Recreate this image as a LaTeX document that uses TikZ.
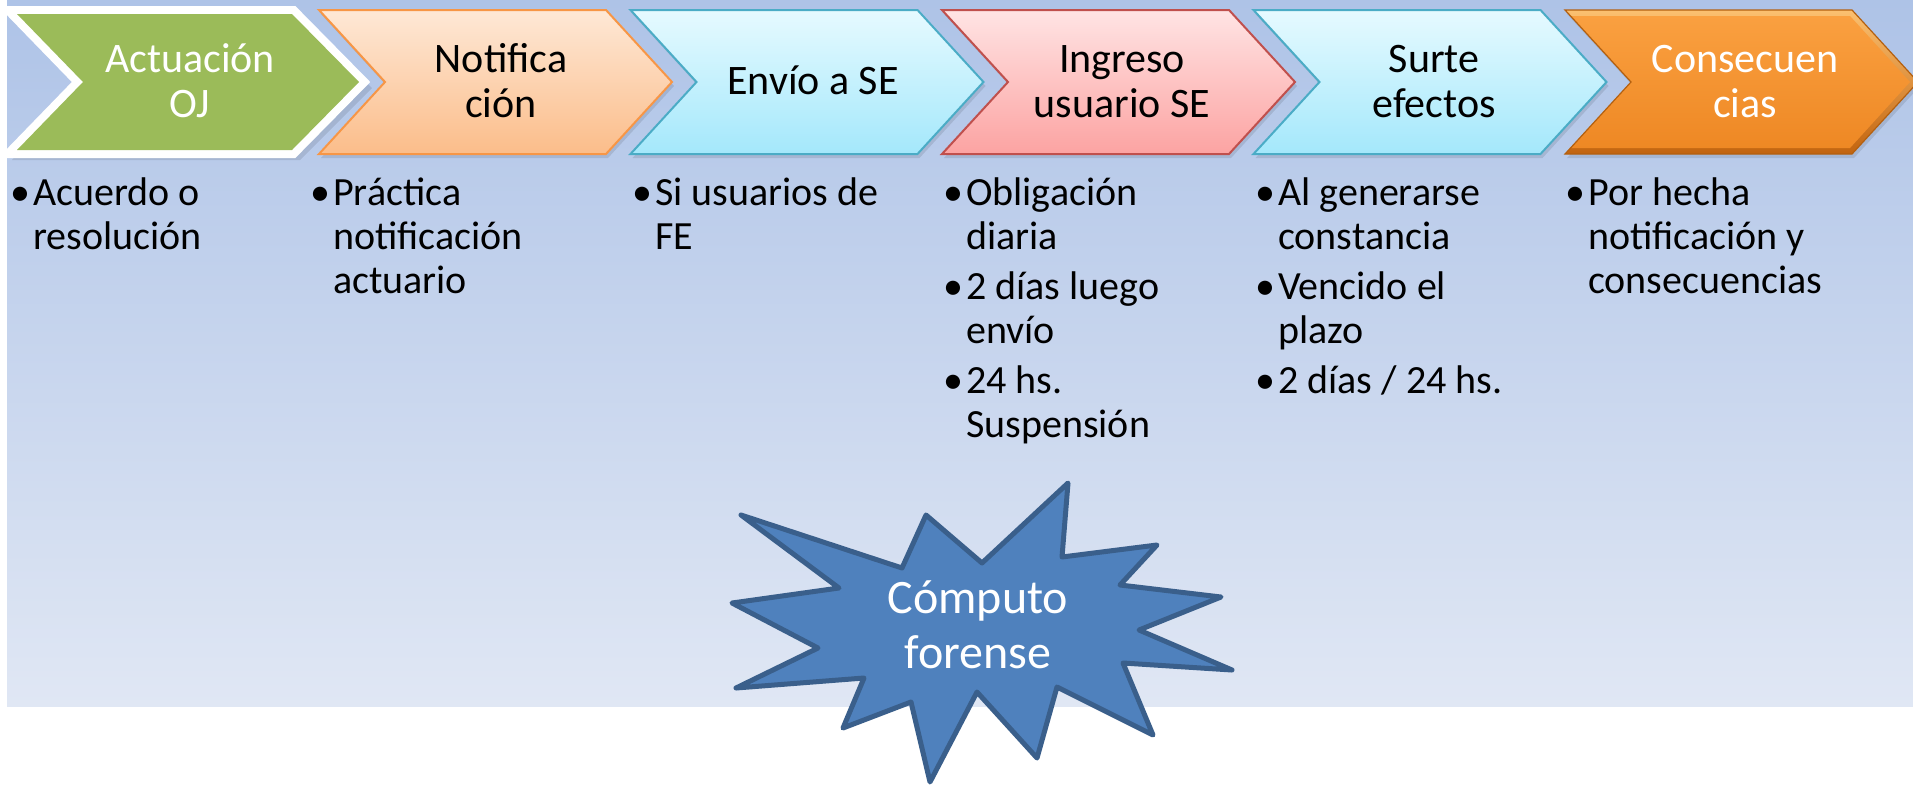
\documentclass[tikz,border=0pt]{standalone}
\usepackage{fontspec}
\setmainfont{Carlito}
\definecolor{bgtop}{HTML}{AEC3E7}
\definecolor{bgbot}{HTML}{E0E7F4}
\definecolor{ogreen}{HTML}{9BBB59}
\definecolor{peachT}{HTML}{FEE8D6}
\definecolor{peachB}{HTML}{FBBD8A}
\definecolor{peachD}{HTML}{F79646}
\definecolor{cyanT}{HTML}{E6FAFF}
\definecolor{cyanB}{HTML}{A4E8FB}
\definecolor{cyanD}{HTML}{4BACC6}
\definecolor{pinkT}{HTML}{FFE4E4}
\definecolor{pinkB}{HTML}{FCA3A2}
\definecolor{pinkD}{HTML}{C0504D}
\definecolor{orT}{HTML}{FAA040}
\definecolor{orB}{HTML}{EE8824}
\definecolor{orRimT}{HTML}{FBC070}
\definecolor{orRimB}{HTML}{C2640F}
\definecolor{orD}{HTML}{B4600F}
\definecolor{starF}{HTML}{4F81BD}
\definecolor{starD}{HTML}{3A5F8B}
\newcommand{\chev}[1]{(#1,10) -- ++(287,0) -- ++(66,72) -- ++(-66,72) -- ++(-287,0) -- ++(66,-72) -- cycle}
\newcommand{\chevin}[1]{(#1+6,16) -- ++(279,0) -- ++(60,66) -- ++(-60,66) -- ++(-279,0) -- ++(60,-66) -- cycle}
\newcommand{\ctext}[1]{\vtop{\hsize=320pt\parindent=0pt\centering\fontsize{42}{45}\selectfont #1\par}}
\newcommand{\bitem}[1]{\par\hangindent=23pt\hangafter=1\noindent\makebox[23pt][l]{\textbullet}#1\par}
\newcommand{\bcol}[1]{\vtop{\hsize=300pt\parindent=0pt\parskip=6pt\raggedright\fontsize{40}{44}\selectfont #1}}
\begin{document}
\begin{tikzpicture}[x=1pt,y=-1pt,
  chevshadow/.style={fill=black,opacity=0.10},
  txt/.style={inner sep=0pt,anchor=base},
  coltxt/.style={inner sep=0pt,anchor=base west,text=black}]
\useasboundingbox (0,0) rectangle (1913,785);
\fill[white] (0,0) rectangle (1913,785);
\shade[top color=bgtop,bottom color=bgbot] (7,0) rectangle (1913,706);
% shadows
\foreach \L in {319,630.5,942,1253.5,1565}{
  \fill[chevshadow,shift={(2,4)}] \chev{\L};
}
\fill[chevshadow] (17,20) -- (300,20) -- (372,88) -- (300,160) -- (12,160) -- (80,88) -- cycle;
% chevron 1
\draw[white,line width=16,line join=miter] (17,14) -- (292,14) -- (359,82) -- (292,150) -- (17,150) -- (83,82) -- cycle;
\fill[ogreen] (17,14) -- (292,14) -- (359,82) -- (292,150) -- (17,150) -- (83,82) -- cycle;
% chevron 2
\shade[top color=peachT,bottom color=peachB] \chev{319};
\draw[peachD,line width=2] \chev{319};
% chevron 3
\shade[top color=cyanT,bottom color=cyanB] \chev{630.5};
\draw[cyanD,line width=2] \chev{630.5};
% chevron 4
\shade[top color=pinkT,bottom color=pinkB] \chev{942};
\draw[pinkD,line width=2] \chev{942};
% chevron 5
\shade[top color=cyanT,bottom color=cyanB] \chev{1253.5};
\draw[cyanD,line width=2] \chev{1253.5};
% chevron 6 (bevelled)
\shade[top color=orRimT,bottom color=orRimB] \chev{1565};
\shade[top color=orT,bottom color=orB] \chevin{1565};
\draw[orD,line width=1.2] \chev{1565};
% chevron texts
\node[txt,text=white] (t1) at (190,72) {\ctext{Actuación\\OJ}};
\node[txt,text=black] (t2) at (501,72) {\ctext{Notifica\\ción}};
\node[txt,text=black] (t3) at (813,94) {\ctext{Envío a SE}};
\node[txt,text=black] (t4) at (1122,72) {\ctext{Ingreso\\usuario SE}};
\node[txt,text=black] (t5) at (1434,72) {\ctext{Surte\\efectos}};
\node[txt,text=white] (t6) at (1745,72) {\ctext{Consecuen\\cias}};
% bullet columns
\node[coltxt] (c1) at (10,205) {\bcol{\bitem{Acuerdo o\newline resolución}}};
\node[coltxt] (c2) at (310,205) {\bcol{\bitem{Práctica\newline notificación\newline actuario}}};
\node[coltxt] (c3) at (632,205) {\bcol{\bitem{Si usuarios de\newline FE}}};
\node[coltxt] (c4) at (943,205) {\bcol{\bitem{Obligación\newline diaria}\bitem{2 días luego\newline envío}\bitem{24 hs.\newline Suspensión}}};
\node[coltxt] (c5) at (1255,205) {\bcol{\bitem{Al generarse\newline constancia}\bitem{Vencido el\newline plazo}\bitem{2 días / 24 hs.}}};
\node[coltxt] (c6) at (1565,205) {\bcol{\bitem{Por hecha\newline notificación y\newline consecuencias}}};
% star
\draw[fill=starF,draw=starD,line width=5,line join=round]
  (741,515) -- (902,568) -- (926,515) -- (982,563) -- (1068,483) -- (1062,557)
  -- (1157,545) -- (1120,585) -- (1221,597) -- (1139,630) -- (1232,670) -- (1123,663)
  -- (1153,735) -- (1057,687) -- (1037,758) -- (977,692) -- (930,782) -- (911,702)
  -- (843,728) -- (864,678) -- (736,688) -- (818,648) -- (732,603) -- (839,588) -- cycle;
\node[txt,text=white] (star) at (978,613) {\vtop{\hsize=300pt\parindent=0pt\centering\fontsize{48}{55}\selectfont Cómputo\\forense\par}};
\end{tikzpicture}
\end{document}
